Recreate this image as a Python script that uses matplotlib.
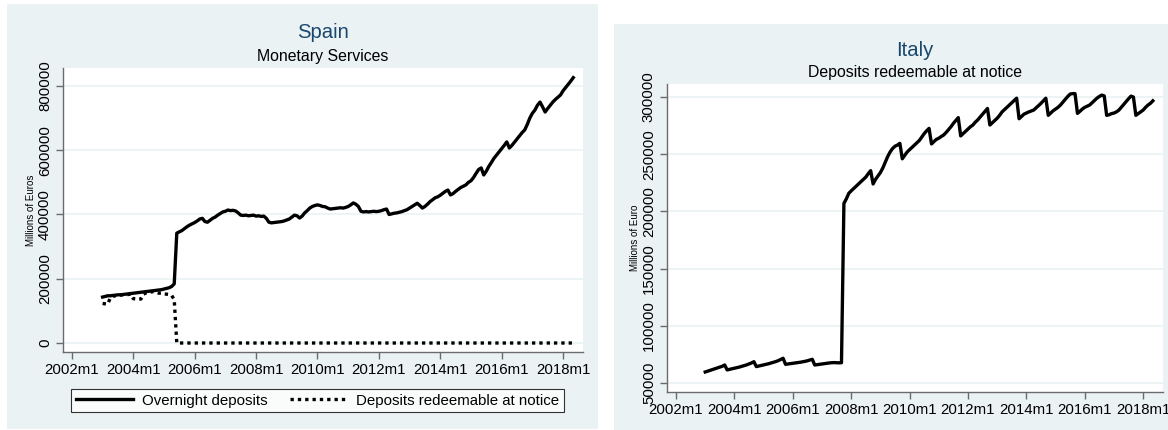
import numpy as np
import matplotlib
matplotlib.use("Agg")
import matplotlib.pyplot as plt
from matplotlib.patches import Rectangle

plt.rcParams['font.family'] = ['Liberation Sans', 'DejaVu Sans']

# ---------------- data (thousands of millions of euros -> scaled below) -------------
spain_start = (2003, 1)
spain_overnight = [
    143, 145, 147, 147, 148, 149, 150, 150, 151, 152, 153, 154,            # 2003
    155, 156, 157, 158, 159, 160, 161, 162, 163, 164, 165, 166,            # 2004
    168, 170, 172, 176, 184, 342, 346, 350, 356, 362, 367, 371,            # 2005
    375, 380, 386, 388, 378, 376, 382, 388, 392, 398, 403, 408,            # 2006
    410, 414, 412, 413, 411, 405, 398, 397, 398, 396, 397, 398,            # 2007
    395, 396, 394, 395, 388, 376, 374, 375, 376, 377, 378, 380,            # 2008
    383, 386, 392, 398, 396, 389, 395, 405, 412, 420, 425, 428,            # 2009
    430, 428, 425, 424, 420, 417, 418, 419, 420, 421, 420, 422,            # 2010
    425, 430, 436, 432, 425, 410, 408, 409, 408, 409, 410, 409,            # 2011
    410, 412, 415, 417, 400, 402, 404, 405, 407, 409, 412, 415,            # 2012
    420, 425, 430, 435, 428, 420, 425, 432, 440, 446, 452, 455,            # 2013
    460, 466, 472, 476, 461, 465, 472, 478, 484, 488, 492, 500,            # 2014
    505, 515, 528, 540, 545, 523, 535, 550, 562, 575, 585, 595,            # 2015
    605, 615, 626, 607, 615, 625, 635, 645, 655, 663, 680, 700,            # 2016
    715, 725, 740, 750, 735, 719, 730, 740, 750, 758, 765, 772,            # 2017
    785, 795, 805, 815, 826,                                               # 2018
]
spain_notice = [
    123, 122, 121, 140, 145, 147, 148, 149, 150, 150, 151, 152,            # 2003
    138, 137, 136, 137, 152, 156, 158, 159, 160, 158, 155, 156,            # 2004
    153, 152, 151, 148, 135,                                               # 2005 m1-m5
] + [0] * (7 + 12 * 12 + 5)                                                # 2005m6-2018m5

italy_start = (2003, 1)
italy_notice = [
    59.6, 60.3, 61.0, 61.7, 62.4, 63.1, 63.8, 64.6, 65.7, 61.4, 61.9, 62.4,   # 2003
    62.9, 63.4, 63.9, 64.5, 65.1, 65.8, 66.6, 67.5, 68.6, 64.3, 64.8, 65.3,   # 2004
    65.8, 66.3, 66.8, 67.4, 68.0, 68.7, 69.5, 70.5, 71.6, 66.3, 66.6, 66.9,   # 2005
    67.2, 67.5, 67.8, 68.1, 68.5, 68.9, 69.4, 70.0, 70.7, 65.7, 66.0, 66.3,   # 2006
    66.6, 66.9, 67.2, 67.5, 67.7, 67.8, 67.7, 67.6, 67.7, 207.0, 211.0, 215.8, # 2007
    218, 220, 222, 224, 226, 228, 230, 233, 235.6, 224, 228, 231,             # 2008
    234, 238, 243, 248, 252, 255, 257, 258, 259.5, 246, 249, 252,             # 2009
    254, 256, 258, 260, 262, 265, 268, 270.5, 272.6, 259, 261, 263,           # 2010
    264, 265.5, 266.8, 269, 271.5, 274, 277, 279.5, 282, 266, 268, 270,       # 2011
    272, 274, 275.5, 278, 280, 282.5, 285, 287.5, 290, 275.5, 277.5, 279.5,   # 2012
    281.5, 284, 287, 289, 291, 293, 295, 297, 299, 281, 283, 285,             # 2013
    286, 287, 287.8, 288.6, 290.5, 292.5, 294.5, 296.8, 299, 284, 286, 288,   # 2014
    289.5, 291, 293, 295.5, 298, 300.5, 302.6, 303, 303, 285.7, 287.5, 289.5, # 2015
    291, 292, 293, 295, 297, 299, 300.5, 301.7, 301, 284, 284.5, 285.5,       # 2016
    286, 287, 288.5, 291, 293.5, 296, 298.5, 300.8, 300, 284, 285.5, 287,     # 2017
    288.6, 291, 293, 294.5, 296.7,                                            # 2018
]

x_tick_years = [2002, 2004, 2006, 2008, 2010, 2012, 2014, 2016, 2018]
x_tick_labels = [f"{y}m1" for y in x_tick_years]
spain_yticks = [0, 200000, 400000, 600000, 800000]
italy_yticks = [50000, 100000, 150000, 200000, 250000, 300000]


def monthly_axis(start, n):
    y0, m0 = start
    return np.array([y0 + (m0 - 1 + i) / 12.0 for i in range(n)])


sp_x = monthly_axis(spain_start, len(spain_overnight))
sp_on = np.array(spain_overnight) * 1000
sp_nt = np.array(spain_notice[:len(spain_overnight)]) * 1000
it_x = monthly_axis(italy_start, len(italy_notice))
it_v = np.array(italy_notice) * 1000

# ---------------- figure ----------------
W, H = 1168, 430
fig = plt.figure(figsize=(W / 100, H / 100), dpi=100)
fig.patch.set_facecolor('white')

BG = '#EAF2F3'
TITLE_C = '#1A476F'
AXC = '#6b6b6b'
TICK_FS = 10.8
SUB_FS = 11.4
TITLE_FS = 14.6


def fr(x0, y0, x1, y1):
    return [x0 / W, 1 - y1 / H, (x1 - x0) / W, (y1 - y0) / H]


for (x0, y0, x1, y1) in [(7, 4, 598, 429), (614, 24, 1168, 430)]:
    b = fr(x0, y0, x1, y1)
    fig.patches.append(Rectangle((b[0], b[1]), b[2], b[3], transform=fig.transFigure,
                                 facecolor=BG, edgecolor='none', zorder=-10))


def style_axes(ax, yticks):
    ax.set_facecolor('white')
    for s in ['top', 'right']:
        ax.spines[s].set_visible(False)
    for s in ['left', 'bottom']:
        ax.spines[s].set_color(AXC)
        ax.spines[s].set_linewidth(1.0)
    ax.set_xticks(x_tick_years)
    ax.set_xticklabels(x_tick_labels)
    ax.set_yticks(yticks)
    ax.set_yticklabels([str(v) for v in yticks], rotation=90, va='center')
    ax.tick_params(axis='both', colors=AXC, labelcolor='black', labelsize=TICK_FS,
                   length=5, width=1)
    ax.tick_params(axis='x', pad=3)
    ax.tick_params(axis='y', pad=3)
    ax.grid(axis='y', color=BG, linewidth=1.2)
    ax.set_axisbelow(True)


# Spain
ax1 = fig.add_axes(fr(63, 68, 583, 352))
style_axes(ax1, spain_yticks)
l1, = ax1.plot(sp_x, sp_on, color='black', lw=2.4, solid_joinstyle='round')
l2, = ax1.plot(sp_x, sp_nt, color='black', lw=2.4, linestyle=(0, (1, 1.2)))
ax1.set_xlim(2001.71, 2018.65)
ax1.set_ylim(-28000, 856000)
ax1.set_ylabel('Millions of Euros', fontsize=7, labelpad=1.5)

fig.text(323 / W, 1 - 32 / H, 'Spain', color=TITLE_C, fontsize=TITLE_FS, ha='center', va='center')
fig.text(323 / W, 1 - 57 / H, 'Monetary Services', color='black', fontsize=SUB_FS,
         ha='center', va='center')

lb = fr(71, 387, 564, 414)
leg = fig.legend([l1, l2], ['Overnight deposits', 'Deposits redeemable at notice'],
                 loc='center', bbox_to_anchor=(lb[0], lb[1], lb[2], lb[3]),
                 bbox_transform=fig.transFigure, mode='expand', ncol=2,
                 fontsize=TICK_FS, frameon=True, fancybox=False, handlelength=3.8,
                 borderpad=0.3, handletextpad=0.6, borderaxespad=0)
leg.get_frame().set_edgecolor('black')
leg.get_frame().set_linewidth(0.8)
leg.get_frame().set_facecolor('white')

# Italy
ax2 = fig.add_axes(fr(667, 84, 1163, 392))
style_axes(ax2, italy_yticks)
ax2.plot(it_x, it_v, color='black', lw=2.4, solid_joinstyle='round')
ax2.set_xlim(2001.69, 2018.68)
ax2.set_ylim(42100, 311400)
ax2.set_ylabel('Millions of Euro', fontsize=7, labelpad=1.5)

fig.text(915 / W, 1 - 50 / H, 'Italy', color=TITLE_C, fontsize=TITLE_FS, ha='center', va='center')
fig.text(915 / W, 1 - 73 / H, 'Deposits redeemable at notice', color='black', fontsize=SUB_FS,
         ha='center', va='center')

fig.savefig('out.png', dpi=100, facecolor='white')
